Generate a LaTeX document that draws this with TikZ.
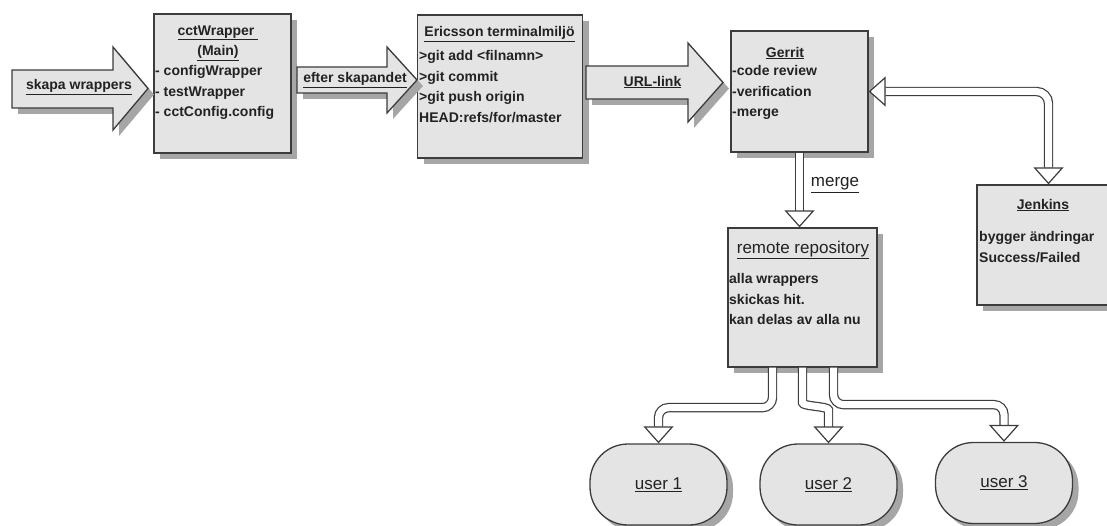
\documentclass[tikz,border=0pt]{standalone}
\usepackage{fontspec}
\setmainfont{Liberation Sans}
\usetikzlibrary{shadows,arrows.meta,positioning}

\definecolor{panelfill}{HTML}{E4E4E4}
\definecolor{panelline}{HTML}{3C3C3C}
\definecolor{panelshadow}{HTML}{A6A6A6}
\definecolor{ink}{HTML}{222222}

\tikzset{
  boxshadow/.style={drop shadow={shadow xshift=6pt, shadow yshift=-6pt, fill=panelshadow, opacity=1}},
  panel/.style={draw=panelline, line width=1.3pt, fill=panelfill, boxshadow, inner sep=0pt},
  bigarrow/.style={draw=panelline, line width=1.3pt, fill=panelfill, boxshadow, line join=miter},
  boxbody/.style={text=ink, font=\bfseries\fontsize{14}{20.7}\selectfont, inner sep=0pt, align=left, anchor=north west},
  boxtitle/.style={text=ink, font=\bfseries\fontsize{14}{20.5}\selectfont, inner sep=0pt, align=center},
  bigtitle/.style={text=ink, font=\fontsize{17}{20}\selectfont, inner sep=0pt},
  userbox/.style={draw=panelline, line width=1.3pt, fill=panelfill, boxshadow, rounded corners=38pt,
    minimum width=137pt, minimum height=81pt, text=ink, font=\fontsize{17}{20}\selectfont},
  pipe/.style={draw=panelline, line width=1.2pt, double=white, double distance=7pt, rounded corners=10pt},
  Hollow/.tip={Triangle[length=17pt, width=30pt, line width=1.2pt, fill=white]}
}

\begin{document}
\begin{tikzpicture}[x=1pt, y=-1pt]
  \clip (0,0) rectangle (1107,526);

  % boxes
  \node[panel, minimum width=137pt, minimum height=139pt] (cct) at (222.5,83.5) {};
  \node[panel, minimum width=165pt, minimum height=143pt] (ericsson) at (500,86.5) {};
  \node[panel, minimum width=137pt, minimum height=121pt] (gerrit) at (799.5,91.5) {};
  \node[panel, minimum width=143pt, minimum height=120pt] (jenkins) at (1048.5,245) {};
  \node[panel, minimum width=149pt, minimum height=139pt] (remote) at (802.5,297.5) {};

  \node[boxtitle] (cctTitle) at (218,43) {\underline{cctWrapper\ }\\\underline{(Main)}};
  \node[boxbody] (cctText) at (155,65) {- configWrapper\\{}- testWrapper\\{}- cctConfig.config};
  \node[boxtitle] (ericssonTitle) at (499.5,34) {\underline{Ericsson terminalmiljö}};
  \node[boxbody] (ericssonText) at (419,50) {>git add <filnamn>\\{}>git commit\\{}>git push origin\\HEAD:refs/for/master};
  \node[boxtitle] (gerritTitle) at (785,53) {\underline{Gerrit}};
  \node[boxbody] (gerritText) at (732,65) {-code review\\{}-verification\\{}-merge};
  \node[boxtitle] (jenkinsTitle) at (1043,205) {\underline{Jenkins}};
  \node[boxbody] (jenkinsText) at (979,231) {bygger ändringar\\Success/Failed};
  \node[bigtitle] (remoteTitle) at (803,250) {\underline{remote repository}};
  \node[boxbody] (remoteText) at (729,273) {alla wrappers\\skickas hit.\\kan delas av alla nu};

  % block arrows
  \draw[bigarrow] (12,70) -- (113,70) -- (113,47) -- (148,88.5) -- (113,130) -- (113,108) -- (12,108) -- cycle;
  \node[boxtitle] (skapaText) at (79,87) {\underline{skapa wrappers}};
  \draw[bigarrow] (297,67) -- (387,67) -- (387,47) -- (417,80) -- (387,113) -- (387,93) -- (297,93) -- cycle;
  \node[boxtitle] (efterText) at (355,80) {\underline{efter skapandet}};
  \draw[bigarrow] (586,66) -- (688,66) -- (688,43) -- (723,82.5) -- (688,122) -- (688,99) -- (586,99) -- cycle;
  \node[boxtitle] (urlText) at (652.5,82) {\underline{URL-link}};

  % users
  \node[userbox] (user1) at (658.5,484.5) {\underline{user 1}};
  \node[userbox] (user2) at (828.5,484.5) {\underline{user 2}};
  \node[userbox] (user3) at (1004,483) {\underline{user 3}};

  % hollow connectors
  \draw[pipe, -Hollow] (gerrit.south) -- (gerrit.south |- remote.north);
  \node[bigtitle] (mergeText) at (835,185) {\underline{merge}};
  \draw[pipe, Hollow-Hollow, rounded corners=12pt] (gerrit.east) -| (jenkins.north);
  \draw[pipe, -Hollow] ([xshift=-30pt]remote.south) -- ++(0,40) -| (user1.north);
  \draw[pipe, -Hollow] (remote.south) -- ++(0,25) .. controls +(0,14) and +(0,-14) .. (user2.north |- 0,420) -- (user2.north);
  \draw[pipe, -Hollow] ([xshift=31pt]remote.south) -- ++(0,37) -| (user3.north);
\end{tikzpicture}
\end{document}
